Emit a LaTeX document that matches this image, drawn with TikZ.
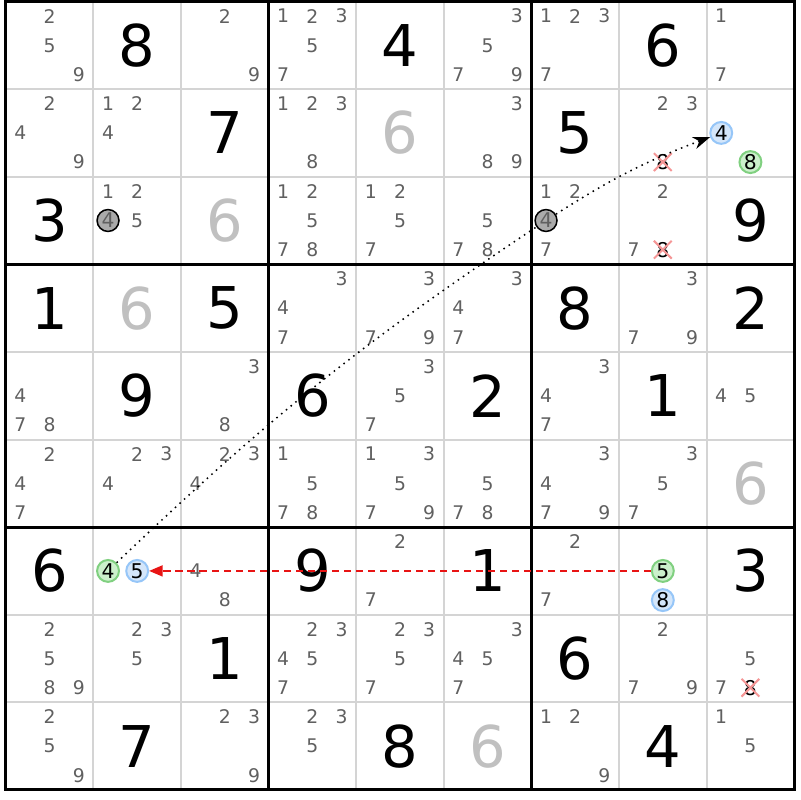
\documentclass[tikz,border=0pt]{standalone}
\usepackage{fontspec}
\setmainfont{DejaVu Sans}
\usetikzlibrary{arrows.meta,shapes.misc}

\definecolor{gridgray}{RGB}{212,212,212}
\definecolor{candgray}{RGB}{96,96,96}
\definecolor{solvedgray}{RGB}{192,192,192}
\definecolor{markgreen}{RGB}{128,208,128}
\definecolor{markgreenfill}{RGB}{204,240,204}
\definecolor{markblue}{RGB}{150,198,248}
\definecolor{markbluefill}{RGB}{212,230,250}
\definecolor{markgrayfill}{RGB}{170,170,170}
\definecolor{xred}{RGB}{245,150,150}
\definecolor{linkred}{RGB}{232,20,20}

\begin{document}
\begin{tikzpicture}[
    thinline/.style={
      draw=gridgray,
      line width=0.65pt
    },
    boxline/.style={
      draw=black,
      line width=1pt
    },
    given/.style={
      font=\fontsize{18.7}{20}\selectfont,
      inner sep=0pt
    },
    solved/.style={
      given,
      text=solvedgray
    },
    cand/.style={
      font=\fontsize{6.1}{7}\selectfont,
      text=candgray,
      inner sep=0pt
    },
    markbase/.style={
      circle,
      minimum size=0.25cm,
      inner sep=0pt,
      line width=0.65pt,
      font=\fontsize{6.6}{7}\selectfont
    },
    greenmark/.style={markbase, draw=markgreen, fill=markgreenfill},
    bluemark/.style={markbase, draw=markblue, fill=markbluefill},
    graymark/.style={markbase, draw=black, line width=0.5pt, fill=markgrayfill, text=candgray},
    elim/.style={
      cand,
      font=\fontsize{6.6}{7}\selectfont,
      text=black,
      cross out,
      draw=xred,
      line width=0.65pt,
      minimum width=0.18cm,
      minimum height=0.18cm
    },
    chain/.style={
      black,
      line width=0.5pt,
      dash pattern=on 0.5pt off 1.5pt
    },
    weak/.style={
      linkred,
      line width=0.5pt,
      dash pattern=on 2.3pt off 1.6pt,
      -{Triangle[length=4.4pt,width=3.6pt]}
    }
  ]

    % page and background
    \useasboundingbox (-0.066,-9.115) rectangle (9.066,0.017);
    \fill[white] (-0.066,-9.115) rectangle (9.066,0.017);

    % cell lines
    \foreach \i in {1,2,4,5,7,8} {
      \draw[thinline] (\i,0) -- (\i,-9);
      \draw[thinline] (0,-\i) -- (9,-\i);
    }

    % box lines
    \foreach \i in {3,6} {
      \draw[boxline] (\i,0) -- (\i,-9);
      \draw[boxline] (0,-\i) -- (9,-\i);
    }
    \draw[boxline] (0,0) rectangle (9,-9);

    % given digits
    \foreach \r/\c/\d in {1/2/8, 1/5/4, 1/8/6, 2/3/7, 2/7/5, 3/1/3, 3/9/9,
        4/1/1, 4/3/5, 4/7/8, 4/9/2, 5/2/9, 5/4/6, 5/6/2, 5/8/1,
        7/1/6, 7/4/9, 7/6/1, 7/9/3, 8/3/1, 8/7/6, 9/2/7, 9/5/8, 9/8/4} {
      \node[given] (g\r\c) at ({\c-0.5},{0.5-\r}) {\d};
    }

    % solved digits
    \foreach \r/\c/\d in {2/5/6, 3/3/6, 4/2/6, 6/9/6, 9/6/6} {
      \node[solved] (s\r\c) at ({\c-0.5},{0.5-\r}) {\d};
    }

    % pencil marks
    \foreach \r/\c/\ds in {1/1/{2,5,9}, 1/3/{2,9}, 1/4/{1,2,3,5,7}, 1/6/{3,5,7,9},
        1/7/{1,2,3,7}, 1/9/{1,7},
        2/1/{2,4,9}, 2/2/{1,2,4}, 2/4/{1,2,3,8}, 2/6/{3,8,9}, 2/8/{2,3},
        3/2/{1,2,5}, 3/4/{1,2,5,7,8}, 3/5/{1,2,5,7}, 3/6/{5,7,8}, 3/7/{1,2,7}, 3/8/{2,7},
        4/4/{3,4,7}, 4/5/{3,7,9}, 4/6/{3,4,7}, 4/8/{3,7,9},
        5/1/{4,7,8}, 5/3/{3,8}, 5/5/{3,5,7}, 5/7/{3,4,7}, 5/9/{4,5},
        6/1/{2,4,7}, 6/2/{2,3,4}, 6/3/{2,3,4}, 6/4/{1,5,7,8}, 6/5/{1,3,5,7,9},
        6/6/{5,7,8}, 6/7/{3,4,7,9}, 6/8/{3,5,7},
        7/3/{4,8}, 7/5/{2,7}, 7/7/{2,7},
        8/1/{2,5,8,9}, 8/2/{2,3,5}, 8/4/{2,3,4,5,7}, 8/5/{2,3,5,7}, 8/6/{3,4,5,7},
        8/8/{2,7,9}, 8/9/{5,7},
        9/1/{2,5,9}, 9/3/{2,3,9}, 9/4/{2,3,5}, 9/7/{1,2,9}, 9/9/{1,5}} {
      \foreach \d in \ds {
        \node[cand] (c\r\c\d) at ({\c-1+(mod(\d-1,3)+0.5)/3},{1-\r-(int((\d-1)/3)+0.5)/3}) {\d};
      }
    }

    % eliminated candidates
    \node[elim] (e288) at (7.5,-1.833) {8};
    \node[elim] (e388) at (7.5,-2.833) {8};
    \node[elim] (e898) at (8.5,-7.833) {8};

    % highlighted candidates
    \node[bluemark] (m294) at (8.167,-1.5) {4};
    \node[greenmark] (m298) at (8.5,-1.833) {8};
    \node[graymark] (m324) at (1.167,-2.5) {4};
    \node[graymark] (m374) at (6.167,-2.5) {4};
    \node[greenmark] (m724) at (1.167,-6.5) {4};
    \node[bluemark] (m725) at (1.5,-6.5) {5};
    \node[greenmark] (m785) at (7.5,-6.5) {5};
    \node[bluemark] (m788) at (7.5,-6.833) {8};

    % links
    \draw[chain] (m724) to[bend left=5] (m374);
    \draw[chain, -{Stealth[length=5.5pt,width=4pt]}] (m374) to[bend left=6] (m294);
    \draw[weak] (m785) -- (m725);

  \end{tikzpicture}
\end{document}
